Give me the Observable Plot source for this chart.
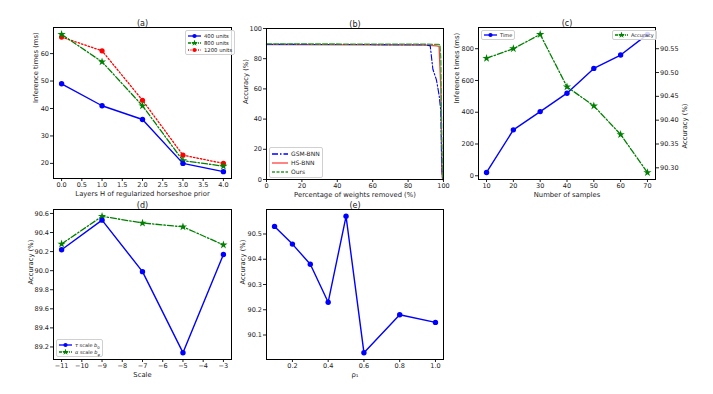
<!DOCTYPE html>
<html><head><meta charset="utf-8">
<script src="https://cdn.jsdelivr.net/npm/d3@7"></script>
<script src="https://cdn.jsdelivr.net/npm/@observablehq/plot@0.6"></script>
<style>
body{margin:0;background:#fff;font-family:"DejaVu Sans",sans-serif;}
#root{position:relative;width:713px;height:394px;overflow:hidden;background:#fff;}
.panel{position:absolute;}
.panel svg{overflow:visible;}
.legend{position:absolute;border:0.8px solid #d0d0d0;border-radius:2px;background:rgba(255,255,255,0.85);color:#222;padding:1px 2px;white-space:nowrap;}
.legend .row{display:flex;align-items:center;}
.legend svg{margin-right:3px;}
.legend sub{font-size:0.75em;line-height:0;}
</style></head>
<body><div id="root"></div>
<script>
// ---------- data ----------
// (a) inference time vs layers
const layers = [0, 1, 2, 3, 4];
const units400 = [49, 41, 36, 20, 17];
const units800 = [67, 57, 41, 21, 19];
const units1200 = [66, 61, 43, 23, 20];
const namesA = ["400 units", "800 units", "1200 units"];
// (b) pruning curves
const gsmX = [0, 50, 90, 92.5, 94, 96, 97.5, 98.5, 99, 99.5];
const gsmY = [89.5, 89.4, 89.2, 88.5, 73, 66, 56, 45, 10, 0];
const hsX = [0, 50, 90, 96, 97.5, 98.5, 99, 99.5];
const hsY = [89.3, 89.2, 89.0, 88.5, 88.2, 60, 5, 0];
const oursX = [0, 50, 90, 97, 98, 98.5, 99, 99.5];
const oursY = [89.8, 89.7, 89.6, 89.5, 89.3, 80, 30, 0];
const namesB = ["GSM-BNN", "HS-BNN", "Ours"];
// (c) number of samples
const samples = [10, 20, 30, 40, 50, 60, 70];
const timeMs = [21, 289, 404, 520, 676, 760, 890];
const accSamples = [90.53, 90.55, 90.58, 90.47, 90.43, 90.37, 90.29];
// (d) scale
const scaleX = [-11, -9, -7, -5, -3];
const tauAcc = [90.22, 90.53, 89.99, 89.14, 90.17];
const alphaAcc = [90.28, 90.57, 90.50, 90.46, 90.27];
// (e) rho1
const rho = [0.1, 0.2, 0.3, 0.4, 0.5, 0.6, 0.8, 1.0];
const rhoAcc = [90.53, 90.46, 90.38, 90.23, 90.57, 90.03, 90.18, 90.15];

// tick labels
const ticksA_x = [0, 0.5, 1, 1.5, 2, 2.5, 3, 3.5, 4];
const ticksA_y = [20, 30, 40, 50, 60];
const ticksB = [0, 20, 40, 60, 80, 100];
const ticksC_x = [10, 20, 30, 40, 50, 60, 70];
const ticksC_y = [0, 200, 400, 600, 800];
const ticksC_y2 = [90.30, 90.35, 90.40, 90.45, 90.50, 90.55];
const ticksD_x = [-11, -10, -9, -8, -7, -6, -5, -4, -3];
const ticksD_y = [89.2, 89.4, 89.6, 89.8, 90.0, 90.2, 90.4, 90.6];
const ticksE_x = [0.2, 0.4, 0.6, 0.8, 1.0];
const ticksE_y = [90.1, 90.2, 90.3, 90.4, 90.5];

// ---------- helpers ----------
const root = document.getElementById("root");
const ML = 50, MR = 50, MT = 20, MB = 30;
const BLUE = "#0000ff", GREEN = "#008000", RED = "#ff0000";
const DASHDOT = "6,2,1.5,2", DOTTED = "1.5,2", DASHED = "5,2";
const zip = (xs, ys) => xs.map((x, i) => ({x, y: ys[i]}));

function panel(o) {
  const marks = [...o.marks];
  if (o.showX !== false) marks.push(Plot.axisX({ticks: o.xTicks, tickFormat: o.xFmt, tickSize: 3, tickPadding: 1, label: null}));
  marks.push(Plot.axisY({anchor: o.yAnchor || "left", ticks: o.yTicks, tickFormat: o.yFmt, tickSize: 3, tickPadding: 1.5, label: null}));
  if (o.frame !== false) marks.push(Plot.frame({stroke: "#000", strokeWidth: 1}));
  if (o.title) marks.push(Plot.text([o.title], {text: d => d, frameAnchor: "top", dy: -7, fontSize: 8}));
  if (o.xLabel) marks.push(Plot.text([o.xLabel], {text: d => d, frameAnchor: "bottom", dy: o.xDy || 17, fontSize: 6.8}));
  if (o.yLabel) marks.push(Plot.text([o.yLabel], {text: d => d, frameAnchor: o.yAnchor || "left", rotate: -90, dx: o.yDx, fontSize: 6.8}));
  const svg = Plot.plot({
    width: o.fw + ML + MR, height: o.fh + MT + MB,
    marginLeft: ML, marginRight: MR, marginTop: MT, marginBottom: MB,
    style: {fontFamily: "DejaVu Sans", fontSize: "6.5px", color: "#222", background: "transparent", overflow: "visible"},
    x: {domain: o.x, nice: false, axis: null},
    y: {domain: o.y, nice: false, axis: null},
    marks
  });
  const d = document.createElement("div");
  d.className = "panel";
  d.style.left = (o.fx - ML) + "px";
  d.style.top = (o.fy - MT) + "px";
  d.appendChild(svg);
  root.appendChild(d);
}

function legend(left, top, entries, fontSize, lineH, swW) {
  const box = document.createElement("div");
  box.className = "legend";
  box.style.left = left + "px";
  box.style.top = top + "px";
  box.style.fontSize = fontSize + "px";
  for (const e of entries) {
    const row = document.createElement("div");
    row.className = "row";
    row.style.height = lineH + "px";
    const ns = "http://www.w3.org/2000/svg";
    const s = document.createElementNS(ns, "svg");
    s.setAttribute("width", swW); s.setAttribute("height", 6);
    const ln = document.createElementNS(ns, "line");
    ln.setAttribute("x1", 0); ln.setAttribute("x2", swW); ln.setAttribute("y1", 3); ln.setAttribute("y2", 3);
    ln.setAttribute("stroke", e.color); ln.setAttribute("stroke-width", e.sw || 1.3);
    if (e.dash) ln.setAttribute("stroke-dasharray", e.dash);
    if (e.opacity) ln.setAttribute("stroke-opacity", e.opacity);
    s.appendChild(ln);
    if (e.symbol) {
      const p = document.createElementNS(ns, "path");
      p.setAttribute("d", d3.symbol(e.symbol === "star" ? d3.symbolStar : d3.symbolCircle, e.size || 14)());
      p.setAttribute("transform", `translate(${swW / 2},3)`);
      p.setAttribute("fill", e.color);
      s.appendChild(p);
    }
    row.appendChild(s);
    const t = document.createElement("span");
    t.innerHTML = e.label;
    row.appendChild(t);
    box.appendChild(row);
  }
  root.appendChild(box);
}

// ---------- (a) ----------
panel({
  fx: 53, fy: 27, fw: 178, fh: 151,
  x: [-0.2, 4.2], y: [14.5, 69.5],
  xTicks: ticksA_x, xFmt: ".1f", yTicks: ticksA_y, yFmt: "d",
  title: "(a)", xLabel: "Layers H of regularized horseshoe prior", xDy: 17,
  yLabel: "Inference times (ms)", yDx: -18,
  marks: [
    Plot.line(zip(layers, units1200), {x: "x", y: "y", stroke: RED, strokeWidth: 1.3, strokeDasharray: DOTTED}),
    Plot.dot(zip(layers, units1200), {x: "x", y: "y", fill: RED, r: 2.6, symbol: "circle"}),
    Plot.line(zip(layers, units800), {x: "x", y: "y", stroke: GREEN, strokeWidth: 1.3, strokeDasharray: DASHDOT}),
    Plot.dot(zip(layers, units800), {x: "x", y: "y", fill: GREEN, r: 2.6, symbol: "star"}),
    Plot.line(zip(layers, units400), {x: "x", y: "y", stroke: BLUE, strokeWidth: 1.4}),
    Plot.dot(zip(layers, units400), {x: "x", y: "y", fill: BLUE, r: 2.7, symbol: "circle"})
  ]
});
legend(185, 30, [
  {label: namesA[0], color: BLUE, symbol: "circle"},
  {label: namesA[1], color: GREEN, symbol: "star", dash: "3,1,1,1"},
  {label: namesA[2], color: RED, symbol: "circle", dash: "1,1.5"}
], 5.3, 7, 13);

// ---------- (b) ----------
panel({
  fx: 266, fy: 28, fw: 177, fh: 151,
  x: [0, 100], y: [0, 100],
  xTicks: ticksB, xFmt: "d", yTicks: ticksB, yFmt: "d",
  title: "(b)", xLabel: "Percentage of weights removed (%)", xDy: 17,
  yLabel: "Accuracy (%)", yDx: -21,
  marks: [
    Plot.line(zip(hsX, hsY), {x: "x", y: "y", stroke: RED, strokeOpacity: 0.75, strokeWidth: 1.3}),
    Plot.line(zip(gsmX, gsmY), {x: "x", y: "y", stroke: BLUE, strokeWidth: 1.1, strokeDasharray: DASHDOT}),
    Plot.line(zip(oursX, oursY), {x: "x", y: "y", stroke: "#2ca02c", strokeWidth: 1.3, strokeDasharray: DASHED})
  ]
});
legend(269, 147, [
  {label: namesB[0], color: BLUE, dash: DASHDOT},
  {label: namesB[1], color: RED, opacity: 0.75},
  {label: namesB[2], color: "#2ca02c", dash: "3,1.5"}
], 6, 9, 16);

// ---------- (c) ----------
panel({
  fx: 478, fy: 27, fw: 177, fh: 152,
  x: [7, 73], y: [-23.5, 933.5],
  xTicks: ticksC_x, xFmt: "d", yTicks: ticksC_y, yFmt: "d",
  title: "(c)", xLabel: "Number of samples", xDy: 17,
  yLabel: "Inference times (ms)", yDx: -22,
  marks: [
    Plot.line(zip(samples, timeMs), {x: "x", y: "y", stroke: BLUE, strokeWidth: 1.4}),
    Plot.dot(zip(samples, timeMs), {x: "x", y: "y", fill: BLUE, r: 2.7})
  ]
});
panel({
  fx: 478, fy: 27, fw: 177, fh: 152,
  x: [7, 73], y: [90.2755, 90.5945],
  showX: false, frame: false, yAnchor: "right",
  yTicks: ticksC_y2, yFmt: ".2f",
  yLabel: "Accuracy (%)", yDx: 29,
  marks: [
    Plot.line(zip(samples, accSamples), {x: "x", y: "y", stroke: GREEN, strokeWidth: 1.3, strokeDasharray: DASHDOT}),
    Plot.dot(zip(samples, accSamples), {x: "x", y: "y", fill: GREEN, r: 2.6, symbol: "star"})
  ]
});
legend(481, 30, [{label: "Time", color: BLUE, symbol: "circle"}], 5, 6, 13);
legend(612, 30, [{label: "Accuracy", color: GREEN, symbol: "star", dash: "3,1,1,1"}], 5, 6, 13);

// ---------- (d) ----------
panel({
  fx: 53, fy: 209, fw: 178, fh: 150,
  x: [-11.4, -2.6], y: [89.0685, 90.6415],
  xTicks: ticksD_x, xFmt: "d", yTicks: ticksD_y, yFmt: ".1f",
  title: "(d)", xLabel: "Scale", xDy: 17,
  yLabel: "Accuracy (%)", yDx: -23,
  marks: [
    Plot.line(zip(scaleX, alphaAcc), {x: "x", y: "y", stroke: GREEN, strokeWidth: 1.3, strokeDasharray: DASHDOT}),
    Plot.dot(zip(scaleX, alphaAcc), {x: "x", y: "y", fill: GREEN, r: 2.6, symbol: "star"}),
    Plot.line(zip(scaleX, tauAcc), {x: "x", y: "y", stroke: BLUE, strokeWidth: 1.4}),
    Plot.dot(zip(scaleX, tauAcc), {x: "x", y: "y", fill: BLUE, r: 2.7})
  ]
});
legend(56, 339, [
  {label: "<i>τ</i> scale <i>b</i><sub>0</sub>", color: BLUE, symbol: "circle"},
  {label: "<i>α</i> scale <i>b</i><sub><i>φ</i></sub>", color: GREEN, symbol: "star", dash: "3,1,1,1"}
], 5, 7, 13);

// ---------- (e) ----------
panel({
  fx: 266, fy: 209, fw: 177, fh: 150,
  x: [0.055, 1.045], y: [90.003, 90.597],
  xTicks: ticksE_x, xFmt: ".1f", yTicks: ticksE_y, yFmt: ".1f",
  title: "(e)", xLabel: "ρ₁", xDy: 17,
  yLabel: "Accuracy (%)", yDx: -24,
  marks: [
    Plot.line(zip(rho, rhoAcc), {x: "x", y: "y", stroke: BLUE, strokeWidth: 1.4}),
    Plot.dot(zip(rho, rhoAcc), {x: "x", y: "y", fill: BLUE, r: 2.7})
  ]
});
</script>
</body></html>
